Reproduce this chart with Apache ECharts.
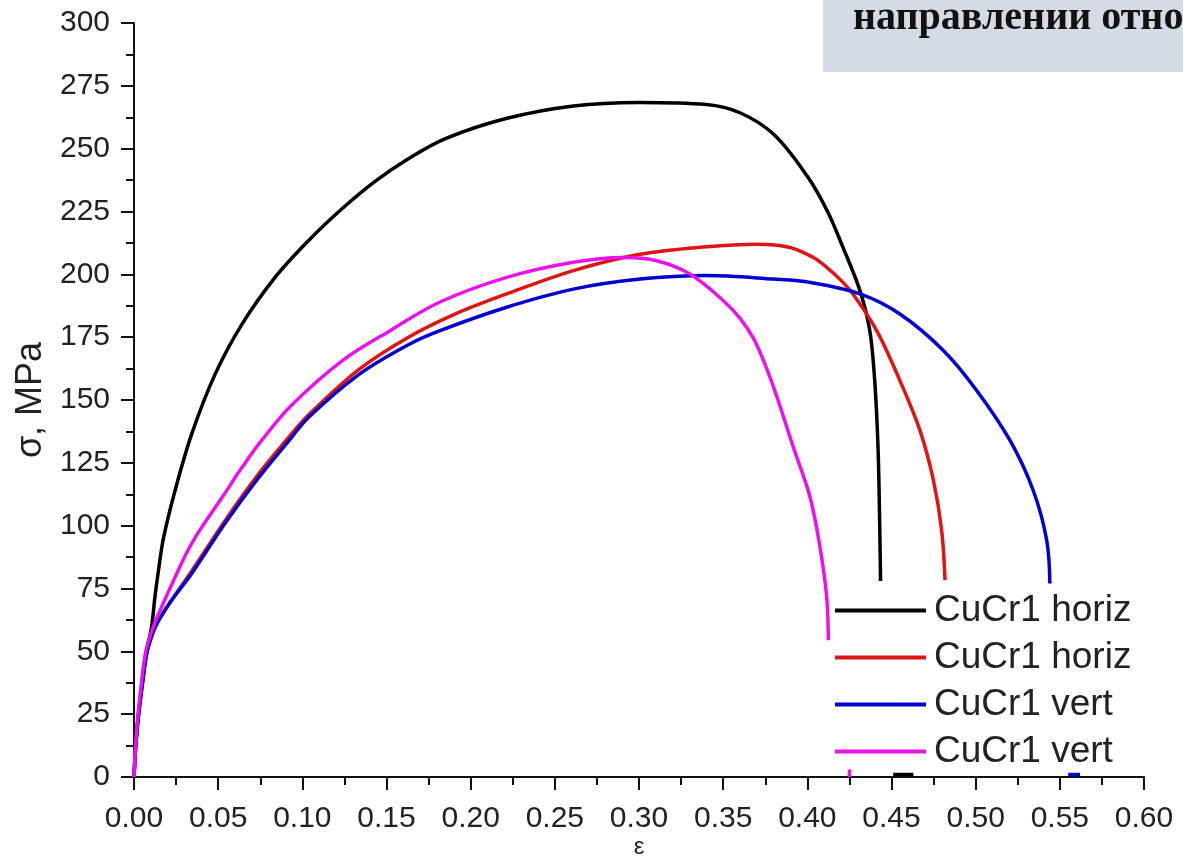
<!DOCTYPE html>
<html>
<head>
<meta charset="utf-8">
<script src="https://cdn.jsdelivr.net/npm/echarts@6/dist/echarts.min.js"></script>
<style>
  html, body { margin: 0; padding: 0; background: #fff; }
  #chart { width: 1183px; height: 856px; }
</style>
</head>
<body>
<div id="chart"></div>
<script>
// strain values (ε) and stress (σ, MPa)
var blackX = [0, 0.001, 0.0026, 0.005, 0.0075, 0.0105, 0.0125, 0.0145, 0.0175, 0.0244, 0.0343, 0.048, 0.064, 0.0838, 0.1036, 0.1234, 0.1432, 0.163, 0.185, 0.221, 0.261, 0.300, 0.340, 0.360, 0.380, 0.400, 0.412, 0.421, 0.431, 0.437, 0.440, 0.442, 0.443, 0.4435];
var blackY = [0, 12, 25, 38, 50, 60, 72, 82, 95, 114, 136.5, 160, 180, 198.8, 213.4, 226, 237, 246, 254, 262, 267, 268.4, 267.6, 264.3, 255.7, 239, 225, 211, 194, 178, 158, 131, 100, 78];

var redX = [0, 0.001, 0.0026, 0.005, 0.0075, 0.011, 0.0144, 0.022, 0.0343, 0.0541, 0.0739, 0.0917, 0.1036, 0.1333, 0.163, 0.1907, 0.2214, 0.261, 0.3006, 0.3402, 0.3699, 0.3897, 0.4036, 0.4115, 0.4194, 0.4273, 0.4412, 0.455, 0.4669, 0.4749, 0.4798, 0.4818];
var redY = [0, 12, 24, 37, 49, 57, 62, 70, 82, 102, 120.5, 135, 144, 162, 175, 184.2, 192.2, 201.5, 208, 211, 212, 210.7, 206.7, 202.8, 198, 192, 177.6, 157.7, 137.9, 118, 98.1, 78.3];

var blueX = [0, 0.001, 0.0026, 0.005, 0.0075, 0.011, 0.0144, 0.022, 0.0343, 0.0541, 0.0739, 0.0917, 0.1036, 0.1333, 0.163, 0.1818, 0.2214, 0.261, 0.3006, 0.3402, 0.3798, 0.4016, 0.4313, 0.455, 0.4808, 0.5006, 0.5204, 0.5342, 0.5422, 0.5441];
var blueY = [0, 12, 24, 37, 49, 57, 62, 70, 81, 101, 119, 133.5, 143, 160, 172, 177.6, 186.9, 194.1, 198.1, 199.5, 198.1, 196.8, 192.2, 184.2, 169.7, 153.8, 133.9, 114, 94.2, 77];

var magentaX = [0, 0.001, 0.0024, 0.0045, 0.007, 0.0105, 0.014, 0.022, 0.0343, 0.0541, 0.064, 0.0759, 0.0937, 0.1234, 0.1531, 0.1818, 0.2214, 0.261, 0.2907, 0.3105, 0.3303, 0.3501, 0.36, 0.368, 0.375, 0.3818, 0.3917, 0.4016, 0.4075, 0.4115, 0.4125];
var magentaY = [0, 13, 25, 38, 50, 58, 64, 76, 93, 113, 123, 134, 148, 165.5, 178, 189, 198.8, 204.8, 206.7, 205.4, 200.1, 189.5, 182.5, 174.5, 164, 151.5, 131.2, 111.4, 91.5, 71.6, 54.4];

// little broken-off bits lying on the ε axis
var blackBitX = [0.451, 0.463];
var blackBitY = [1, 1];
var blueBitX = [0.555, 0.562];
var blueBitY = [1, 1];
var magentaBitX = [0.425, 0.425];
var magentaBitY = [0, 3];

var legendLabels = ["CuCr1 horiz", "CuCr1 horiz", "CuCr1 vert", "CuCr1 vert"];
var seriesKeys = ["s1", "s2", "s3", "s4"];
var seriesColors = ["#000000", "#dd1515", "#0000cc", "#ea12ea"];

var xTicks = [0, 0.6, 0.05];
var yTicks = [0, 300, 25];

function pairs(xs, ys, bx, by) {
  var out = [];
  for (var i = 0; i < xs.length; i++) out.push([xs[i], ys[i]]);
  if (bx) {
    out.push([bx[0], "-"]);
    for (var j = 0; j < bx.length; j++) out.push([bx[j], by[j]]);
  }
  return out;
}

var curves = [
  pairs(blackX, blackY, blackBitX, blackBitY),
  pairs(redX, redY),
  pairs(blueX, blueY, blueBitX, blueBitY),
  pairs(magentaX, magentaY, magentaBitX, magentaBitY)
];

var myChart = echarts.init(document.getElementById("chart"));

var axisFont = "'Liberation Sans', Arial, sans-serif";

var series = [];
for (var k = 0; k < curves.length; k++) {
  series.push({
    name: seriesKeys[k],
    type: "line",
    data: curves[k],
    showSymbol: false,
    smooth: 0.35,
    connectNulls: false,
    color: seriesColors[k],
    lineStyle: { color: seriesColors[k], width: 3.5 }
  });
}

var option = {
  animation: false,
  backgroundColor: "#ffffff",
  grid: { left: 134, right: 39, top: 23, bottom: 79, containLabel: false, outerBoundsMode: "none" },
  xAxis: {
    type: "value",
    min: xTicks[0],
    max: xTicks[1],
    interval: xTicks[2],
    name: "ε",
    nameLocation: "middle",
    nameGap: 58,
    nameMoveOverlap: false,
    nameTextStyle: { fontSize: 24, color: "#222", fontFamily: axisFont },
    axisLine: { show: true, lineStyle: { color: "#111", width: 2 } },
    axisTick: { show: true, inside: false, length: 13, lineStyle: { color: "#111", width: 2 } },
    minorTick: { show: true, splitNumber: 2, length: 8, lineStyle: { color: "#111", width: 2 } },
    splitLine: { show: false },
    axisLabel: {
      margin: 27,
      fontSize: 30,
      color: "#222",
      fontFamily: axisFont,
      formatter: function (v) { return v.toFixed(2); }
    }
  },
  yAxis: {
    type: "value",
    min: yTicks[0],
    max: yTicks[1],
    interval: yTicks[2],
    name: "σ, MPa",
    nameLocation: "middle",
    nameGap: 77,
    nameTextStyle: { fontSize: 36, color: "#222", fontFamily: axisFont },
    axisLine: { show: true, lineStyle: { color: "#111", width: 2 } },
    axisTick: { show: true, inside: false, length: 13, lineStyle: { color: "#111", width: 2 } },
    minorTick: { show: true, splitNumber: 2, length: 8, lineStyle: { color: "#111", width: 2 } },
    splitLine: { show: false },
    axisLabel: { margin: 24, fontSize: 30, color: "#222", fontFamily: axisFont }
  },
  legend: {
    orient: "vertical",
    left: 835,
    top: 592,
    padding: 0,
    itemWidth: 91,
    itemHeight: 4,
    itemGap: 10,
    icon: "rect",
    data: seriesKeys,
    formatter: function (name) { return legendLabels[seriesKeys.indexOf(name)]; },
    textStyle: { fontSize: 37, color: "#222", fontFamily: axisFont, padding: [0, 0, 0, 3] }
  },
  graphic: [
    {
      type: "rect",
      z: 100,
      shape: { x: 823, y: 0, width: 360, height: 72 },
      style: { fill: "#d5dbe5" }
    },
    {
      type: "text",
      z: 101,
      x: 853,
      y: 19,
      style: {
        text: "направлении относительно",
        fill: "#111",
        font: "bold 40px 'Liberation Serif', serif",
        verticalAlign: "middle"
      }
    }
  ],
  series: series
};

myChart.setOption(option);
</script>
</body>
</html>
